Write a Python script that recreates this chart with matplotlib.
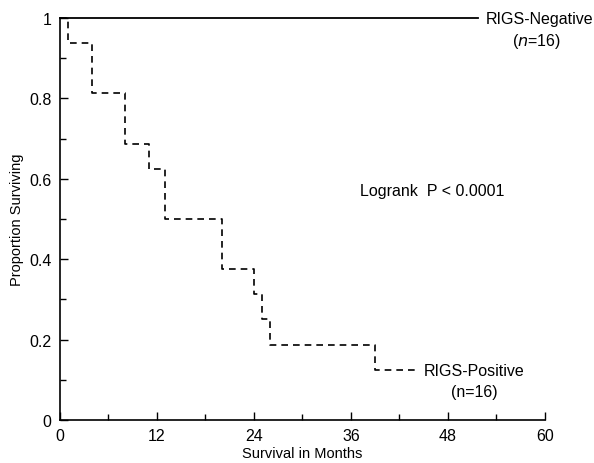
import matplotlib
matplotlib.use("Agg")
import matplotlib.pyplot as plt
from matplotlib.ticker import FixedLocator

plt.rcParams['font.family'] = ['Liberation Sans', 'DejaVu Sans']

# RIGS-Positive Kaplan-Meier steps (time in months, survival after the event)
pos_times = [0, 1, 4, 8, 11, 13, 20, 24, 25, 26, 39, 44]
pos_surv = [1.0, 0.9375, 0.8125, 0.6875, 0.625, 0.5, 0.375, 0.3125, 0.25, 0.1875, 0.125, 0.125]

# RIGS-Negative: no events
neg_times = [0, 51.7]
neg_surv = [1.0, 1.0]

x_ticks = [0, 12, 24, 36, 48, 60]
x_labels = ["0", "12", "24", "36", "48", "60"]
y_ticks = [0, 0.2, 0.4, 0.6, 0.8, 1.0]
y_labels = ["0", "0.2", "0.4", "0.6", "0.8", "1"]

fig = plt.figure(figsize=(5.94, 4.64), dpi=100)
ax = fig.add_axes([0.101, 0.0927, 0.8165, 0.8663])

ax.step(neg_times, neg_surv, where='post', color='black', lw=1.3, clip_on=False)
ax.step(pos_times, pos_surv, where='post', color='black', lw=1.2,
        linestyle=(0, (4, 3)), clip_on=False)

ax.set_xlim(0, 60)
ax.set_ylim(0, 1)
ax.set_xticks(x_ticks)
ax.set_xticklabels(x_labels)
ax.set_yticks(y_ticks)
ax.set_yticklabels(y_labels)
ax.xaxis.set_minor_locator(FixedLocator([6, 18, 30, 42, 54]))
ax.yaxis.set_minor_locator(FixedLocator([0.1, 0.3, 0.5, 0.7, 0.9]))
ax.tick_params(which='major', direction='in', length=6, width=1, labelsize=11.5, pad=6)
ax.tick_params(which='minor', direction='in', length=4, width=1)

for s in ['top', 'right']:
    ax.spines[s].set_visible(False)
for s in ['left', 'bottom']:
    ax.spines[s].set_linewidth(1.2)

ax.set_xlabel("Survival in Months", fontsize=10.5, labelpad=2)
ax.set_ylabel("Proportion Surviving", fontsize=10.5, labelpad=4)

ax.text(52.7, 1.0, "RIGS-Negative", fontsize=11.5, ha='left', va='center', clip_on=False)
ax.text(59.0, 0.945, "($\\it{n}$=16)", fontsize=11.5, ha='center', va='center', clip_on=False)
ax.text(46.1, 0.57, "Logrank  P < 0.0001", fontsize=11.5, ha='center', va='center')
ax.text(45, 0.123, "RIGS-Positive", fontsize=11.5, ha='left', va='center')
ax.text(51.2, 0.07, "(n=16)", fontsize=11.5, ha='center', va='center')

fig.savefig("out.png", dpi=100)
